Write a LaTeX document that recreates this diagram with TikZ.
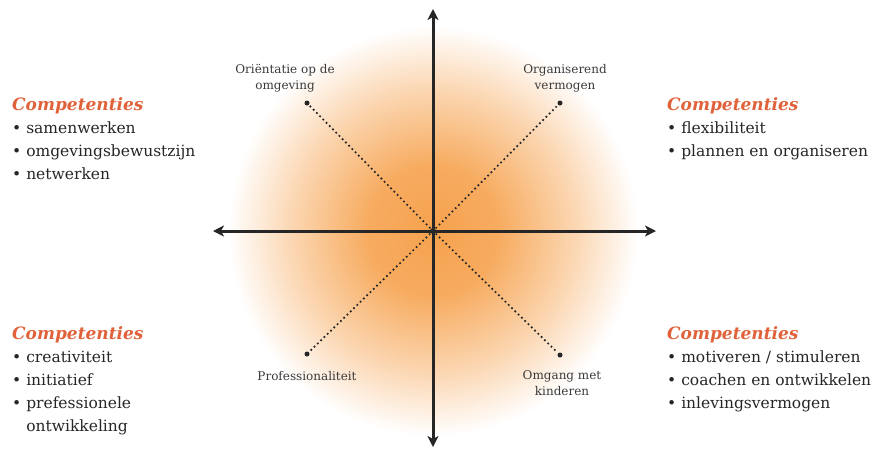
\documentclass[tikz,border=0pt]{standalone}
\usepackage{fontspec}
\setmainfont{DejaVu Serif}
\usetikzlibrary{positioning,arrows.meta}
\definecolor{compred}{HTML}{E0623A}
\definecolor{inkgray}{HTML}{262626}
\definecolor{labgray}{HTML}{3A3A3A}
\definecolor{glowc}{HTML}{F6A24E}
\pgfdeclareradialshading{glow}{\pgfpoint{0bp}{0bp}}{%
  color(0bp)=(glowc); color(8bp)=(glowc!90!white); color(17bp)=(glowc!45!white);
  color(25bp)=(white); color(50bp)=(white)}

\begin{document}
\begin{tikzpicture}[
    x=1pt, y=-1pt,
    axis/.style={line width=3pt, inkgray, {Stealth[length=11pt,width=11pt,inset=3pt]}-{Stealth[length=11pt,width=11pt,inset=3pt]}},
    diag/.style={inkgray, line width=2.4pt, line cap=round, dash pattern=on 0pt off 4.6pt},
    enddot/.style={circle, fill=inkgray, inner sep=0pt, minimum size=5pt},
    quad/.style={font=\fontsize{12}{16}\selectfont, text=labgray, align=center, inner sep=0pt},
    comp/.style={font=\fontsize{15.5}{23}\selectfont, text=inkgray, align=left, inner sep=0pt, anchor=north west},
    head/.style={font=\fontsize{17}{23}\selectfont\bfseries\itshape}
]
\useasboundingbox (0,0) rectangle (877,448);

% Glow
\shade[shading=glow] (433,231) circle (205);

% Centre and axes
\coordinate (c) at (433,231);
\coordinate (top) at (433,9);
\coordinate (bot) at (433,447);
\coordinate (lft) at (213,231);
\coordinate (rgt) at (656,231);

% Quadrant end points
\node[enddot] (dTL) at (307,103) {};
\node[enddot] (dTR) at (560,103) {};
\node[enddot] (dBL) at (307,354) {};
\node[enddot] (dBR) at (560,355) {};

\draw[diag] (c) -- (dTL);
\draw[diag] (c) -- (dTR);
\draw[diag] (c) -- (dBL);
\draw[diag] (c) -- (dBR);

\draw[axis] (bot) -- (top);
\draw[axis] (lft) -- (rgt);
\fill[inkgray] (c) circle (3pt);

% Quadrant labels
\node[quad, anchor=south] (lTL) at (285,92) {Oriëntatie op de\\omgeving};
\node[quad, anchor=south] (lTR) at (565,92) {Organiserend\\vermogen};
\node[quad, anchor=north] (lBL) at (307,371) {Professionaliteit};
\node[quad, anchor=north] (lBR) at (562,370) {Omgang met\\kinderen};

% Competences
\node[comp] (cTL) at (12,97) {\textcolor{compred}{\usefont{TU}{\familydefault}{b}{it}\fontsize{17}{23}\selectfont Competenties}\\
  • samenwerken\\ • omgevingsbewustzijn\\ • netwerken};
\node[comp] (cTR) at (667,97) {\textcolor{compred}{\usefont{TU}{\familydefault}{b}{it}\fontsize{17}{23}\selectfont Competenties}\\
  • flexibiliteit\\ • plannen en organiseren};
\node[comp] (cBL) at (12,326) {\textcolor{compred}{\usefont{TU}{\familydefault}{b}{it}\fontsize{17}{23}\selectfont Competenties}\\
  • creativiteit\\ • initiatief\\ • prefessionele\\ \phantom{• }ontwikkeling};
\node[comp] (cBR) at (667,326) {\textcolor{compred}{\usefont{TU}{\familydefault}{b}{it}\fontsize{17}{23}\selectfont Competenties}\\
  • motiveren / stimuleren\\ • coachen en ontwikkelen\\ • inlevingsvermogen};

\end{tikzpicture}
\end{document}
